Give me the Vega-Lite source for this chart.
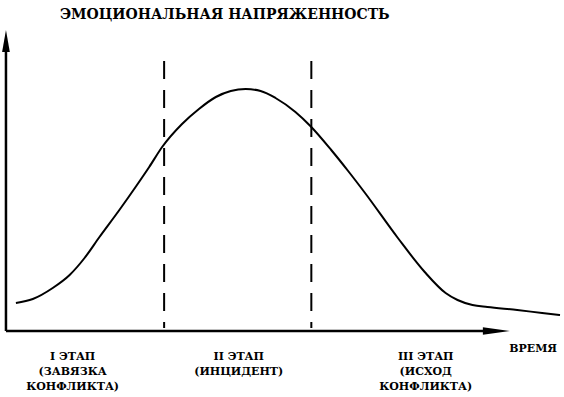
{
  "$schema": "https://vega.github.io/schema/vega-lite/v6.json",
  "width": 564,
  "height": 397,
  "padding": 0,
  "autosize": {"type": "fit", "contains": "padding"},
  "background": "white",
  "config": {"view": {"stroke": null}},
  "datasets": {
    "curve": [
      {"t": 16, "v": 94}, {"t": 33, "v": 98}, {"t": 53, "v": 109}, {"t": 70, "v": 122},
      {"t": 85, "v": 139}, {"t": 100, "v": 160}, {"t": 120, "v": 187}, {"t": 137, "v": 211},
      {"t": 150, "v": 230}, {"t": 163, "v": 250}, {"t": 183, "v": 273}, {"t": 200, "v": 288},
      {"t": 217, "v": 300}, {"t": 232, "v": 306}, {"t": 247, "v": 308}, {"t": 262, "v": 306},
      {"t": 277, "v": 299}, {"t": 297, "v": 285}, {"t": 312, "v": 271}, {"t": 333, "v": 247},
      {"t": 350, "v": 226}, {"t": 367, "v": 204}, {"t": 400, "v": 159}, {"t": 427, "v": 125},
      {"t": 448, "v": 104}, {"t": 460, "v": 97}, {"t": 475, "v": 92}, {"t": 490, "v": 90},
      {"t": 520, "v": 87}, {"t": 545, "v": 84}, {"t": 563, "v": 82}
    ],
    "stages": [
      {"t": 165, "v1": 69, "v2": 336},
      {"t": 313, "v1": 69, "v2": 336}
    ],
    "axes": [
      {"t1": 6, "t2": 6, "v1": 66, "v2": 350},
      {"t1": 6, "t2": 488, "v1": 66, "v2": 66}
    ],
    "labels": [
      {"t": 226, "v": 382, "s": "ЭМОЦИОНАЛЬНАЯ   НАПРЯЖЕННОСТЬ", "k": "title"},
      {"t": 73, "v": 40, "s": "I ЭТАП", "k": "label"},
      {"t": 73, "v": 25, "s": "(ЗАВЯЗКА", "k": "label"},
      {"t": 73, "v": 10, "s": "КОНФЛИКТА)", "k": "label"},
      {"t": 240, "v": 40, "s": "II ЭТАП", "k": "label"},
      {"t": 240, "v": 25, "s": "(ИНЦИДЕНТ)", "k": "label"},
      {"t": 428, "v": 40, "s": "III ЭТАП", "k": "label"},
      {"t": 428, "v": 25, "s": "(ИСХОД", "k": "label"},
      {"t": 428, "v": 10, "s": "КОНФЛИКТА)", "k": "label"},
      {"t": 536, "v": 48, "s": "ВРЕМЯ", "k": "label"}
    ]
  },
  "layer": [
    {
      "data": {"name": "curve"},
      "mark": {"type": "line", "color": "black", "strokeWidth": 2, "interpolate": "monotone"},
      "encoding": {
        "x": {"field": "t", "type": "quantitative", "scale": {"domain": [0, 564], "nice": false, "zero": false}, "axis": null},
        "y": {"field": "v", "type": "quantitative", "scale": {"domain": [0, 397], "nice": false, "zero": false}, "axis": null}
      }
    },
    {
      "data": {"name": "stages"},
      "mark": {"type": "rule", "color": "black", "strokeWidth": 2, "strokeDash": [18, 11]},
      "encoding": {
        "x": {"field": "t", "type": "quantitative"},
        "y": {"field": "v2", "type": "quantitative"},
        "y2": {"field": "v1"}
      }
    },
    {
      "data": {"name": "axes"},
      "mark": {"type": "rule", "color": "black", "strokeWidth": 2.5},
      "encoding": {
        "x": {"field": "t1", "type": "quantitative"},
        "x2": {"field": "t2"},
        "y": {"field": "v1", "type": "quantitative"},
        "y2": {"field": "v2"}
      }
    },
    {
      "data": {"values": [{"t": 6, "v": 356}]},
      "mark": {"type": "point", "shape": "M0,-1L0.35,1L-0.35,1Z", "size": 484, "filled": true, "color": "black", "opacity": 1},
      "encoding": {
        "x": {"field": "t", "type": "quantitative"},
        "y": {"field": "v", "type": "quantitative"}
      }
    },
    {
      "data": {"values": [{"t": 499, "v": 66}]},
      "mark": {"type": "point", "shape": "M1,0L-1,-0.27L-1,0.27Z", "size": 729, "filled": true, "color": "black", "opacity": 1},
      "encoding": {
        "x": {"field": "t", "type": "quantitative"},
        "y": {"field": "v", "type": "quantitative"}
      }
    },
    {
      "data": {"name": "labels"},
      "transform": [{"filter": "datum.k === 'title'"}],
      "mark": {"type": "text", "font": "DejaVu Serif", "fontWeight": "bold", "fontSize": 14, "align": "center", "baseline": "middle", "color": "black"},
      "encoding": {
        "x": {"field": "t", "type": "quantitative"},
        "y": {"field": "v", "type": "quantitative"},
        "text": {"field": "s"}
      }
    },
    {
      "data": {"name": "labels"},
      "transform": [{"filter": "datum.k === 'label'"}],
      "mark": {"type": "text", "font": "DejaVu Serif", "fontWeight": "bold", "fontSize": 11, "align": "center", "baseline": "middle", "color": "black"},
      "encoding": {
        "x": {"field": "t", "type": "quantitative"},
        "y": {"field": "v", "type": "quantitative"},
        "text": {"field": "s"}
      }
    }
  ]
}
